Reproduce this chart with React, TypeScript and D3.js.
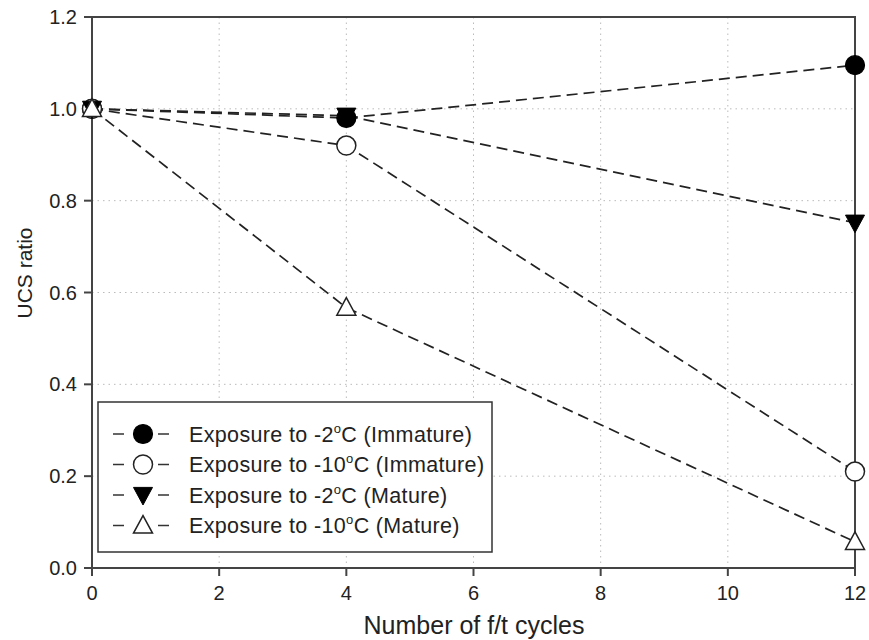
import React from "react";
import * as d3 from "d3";

const cycles = [0, 4, 12];
const immature2 = [1.0, 0.98, 1.095];
const immature10 = [1.0, 0.92, 0.21];
const mature2 = [1.0, 0.985, 0.752];
const mature10 = [1.0, 0.567, 0.057];
const xTicks = [0, 2, 4, 6, 8, 10, 12];
const yTicks = [0, 0.2, 0.4, 0.6, 0.8, 1.0, 1.2];
const seriesNames = [
  ["Exposure to -2", "C (Immature)"],
  ["Exposure to -10", "C (Immature)"],
  ["Exposure to -2", "C (Mature)"],
  ["Exposure to -10", "C (Mature)"],
];

const W = 869, H = 640;
const L = 92, R = 855, T = 17, B = 568;

type Kind = "circleFill" | "circleOpen" | "triDownFill" | "triUpOpen";
const kinds: Kind[] = ["circleFill", "circleOpen", "triDownFill", "triUpOpen"];
const seriesData = [immature2, immature10, mature2, mature10];

function Marker({ kind, x, y }: { kind: Kind; x: number; y: number }) {
  const s = 9.5;
  if (kind === "circleFill") return <circle cx={x} cy={y} r={s} fill="#000" stroke="#000" strokeWidth={1.2} />;
  if (kind === "circleOpen") return <circle cx={x} cy={y} r={s} fill="#fff" stroke="#222" strokeWidth={1.5} />;
  if (kind === "triDownFill") {
    const pts = `${x - s},${y - s * 0.8} ${x + s},${y - s * 0.8} ${x},${y + s * 1.05}`;
    return <polygon points={pts} fill="#000" stroke="#000" strokeWidth={1} />;
  }
  const pts = `${x - s},${y + s * 0.8} ${x + s},${y + s * 0.8} ${x},${y - s * 1.05}`;
  return <polygon points={pts} fill="#fff" stroke="#222" strokeWidth={1.5} />;
}

export default function App() {
  const x = d3.scaleLinear().domain([0, 12]).range([L, R]);
  const y = d3.scaleLinear().domain([0, 1.2]).range([B, T]);
  const line = d3.line<[number, number]>().x((d) => x(d[0])).y((d) => y(d[1]));
  const font = "Arial, 'Liberation Sans', sans-serif";

  return (
    <svg width={W} height={H} style={{ position: "absolute", left: 0, top: 0 }} fontFamily={font}>
      <rect width={W} height={H} fill="#fff" />
      {/* grid */}
      {xTicks.filter((t) => t > 0 && t < 12).map((t) => (
        <line key={"gx" + t} x1={x(t)} x2={x(t)} y1={T} y2={B} stroke="#bbb" strokeWidth={1} strokeDasharray="1.5,4" />
      ))}
      {yTicks.filter((t) => t > 0 && t < 1.2).map((t) => (
        <line key={"gy" + t} x1={L} x2={R} y1={y(t)} y2={y(t)} stroke="#bbb" strokeWidth={1} strokeDasharray="1.5,4" />
      ))}
      {/* lines */}
      {seriesData.map((s, i) => (
        <path key={"l" + i} d={line(cycles.map((c, j) => [c, s[j]] as [number, number])) || ""} fill="none" stroke="#222" strokeWidth={1.7} strokeDasharray="11,6" />
      ))}
      {/* frame */}
      <rect x={L} y={T} width={R - L} height={B - T} fill="none" stroke="#444" strokeWidth={2} />
      {/* ticks */}
      {xTicks.map((t) => (
        <g key={"xt" + t}>
          <line x1={x(t)} x2={x(t)} y1={B} y2={B + 8} stroke="#444" strokeWidth={2} />
          <text x={x(t)} y={600} textAnchor="middle" fontSize={20} fill="#222">{t}</text>
        </g>
      ))}
      {yTicks.map((t) => (
        <g key={"yt" + t}>
          <line x1={L - 8} x2={L} y1={y(t)} y2={y(t)} stroke="#444" strokeWidth={2} />
          <text x={77} y={y(t) + 7} textAnchor="end" fontSize={20} fill="#222">{t.toFixed(1)}</text>
        </g>
      ))}
      {/* markers */}
      {seriesData.map((s, i) =>
        cycles.map((c, j) => <Marker key={"m" + i + "-" + j} kind={kinds[i]} x={x(c)} y={y(s[j])} />)
      )}
      {/* axis labels */}
      <text x={474} y={634} textAnchor="middle" fontSize={25} fill="#222">Number of f/t cycles</text>
      <text transform={`translate(32,273) rotate(-90)`} textAnchor="middle" fontSize={21} fill="#222">UCS ratio</text>
      {/* legend */}
      <rect x={98} y={402} width={394} height={150} fill="#fff" stroke="#333" strokeWidth={1.5} />
      {seriesNames.map((n, i) => {
        const ly = 434 + i * 30.5;
        return (
          <g key={"lg" + i}>
            <line x1={113} x2={124} y1={ly} y2={ly} stroke="#333" strokeWidth={1.5} />
            <line x1={158} x2={169} y1={ly} y2={ly} stroke="#333" strokeWidth={1.5} />
            <Marker kind={kinds[i]} x={143} y={ly} />
            <text x={189} y={ly + 7.5} fontSize={21.5} letterSpacing={0.35} fill="#222">
              {n[0]}
              <tspan fontSize={13} dy={-9}>o</tspan>
              <tspan dy={9}>{n[1]}</tspan>
            </text>
          </g>
        );
      })}
    </svg>
  );
}
